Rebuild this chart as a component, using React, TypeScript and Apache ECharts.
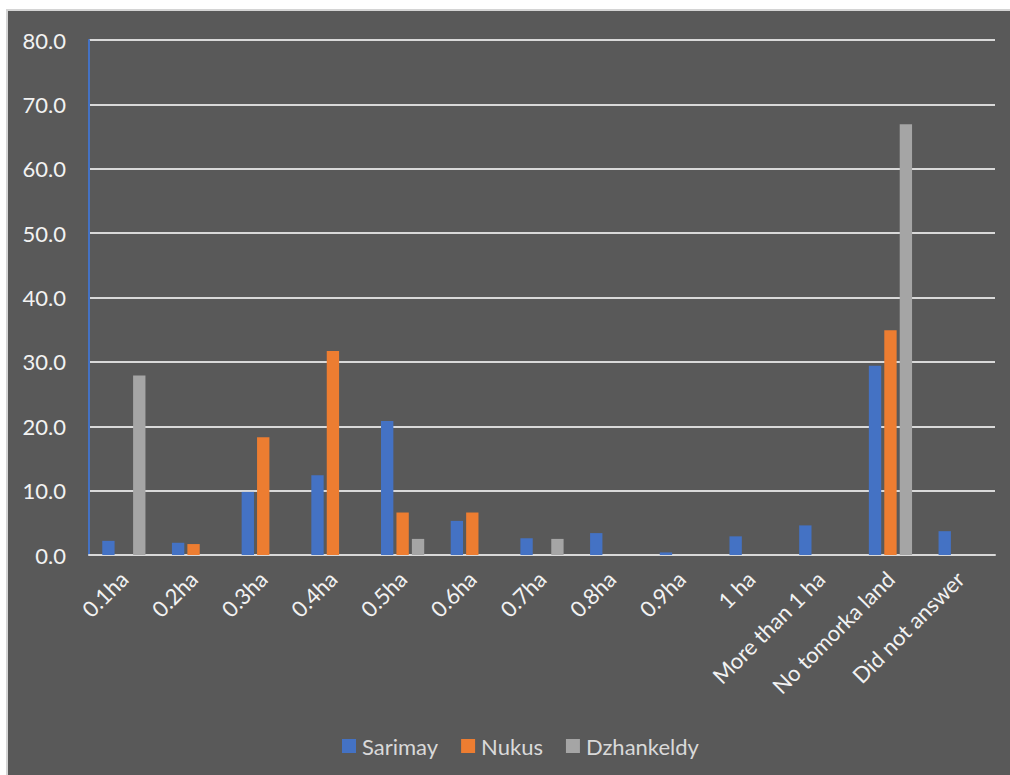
import React, { useEffect, useRef } from "react";
import * as echarts from "echarts";

const categories = ["0.1ha", "0.2ha", "0.3ha", "0.4ha", "0.5ha", "0.6ha", "0.7ha", "0.8ha", "0.9ha", "1 ha", "More than 1 ha", "No tomorka land", "Did not answer"];
const sarimay = [2.2, 1.9, 9.8, 12.4, 20.8, 5.3, 2.6, 3.4, 0.4, 2.9, 4.6, 29.4, 3.7];
const nukus = [0, 1.7, 18.3, 31.7, 6.6, 6.6, 0, 0, 0, 0, 0, 34.9, 0];
const dzhankeldy = [27.9, 0, 0, 0, 2.5, 0, 2.5, 0, 0, 0, 0, 66.9, 0];
const seriesNames = ["Sarimay", "Nukus", "Dzhankeldy"];
const colors = ["#4472C4", "#ED7D31", "#A5A5A5"];

export default function App() {
  const ref = useRef<HTMLDivElement>(null);
  useEffect(() => {
    if (!ref.current) return;
    const chart = echarts.init(ref.current, undefined, { renderer: "svg" });
    const font = "Lato, 'Open Sans', sans-serif";
    const data = [sarimay, nukus, dzhankeldy];
    chart.setOption({
      animation: false,
      backgroundColor: "#595959",
      textStyle: { fontFamily: font },
      grid: { left: 81, right: 15, top: 29, bottom: 220, containLabel: false },
      legend: {
        data: seriesNames,
        bottom: 13,
        left: 329,
        itemWidth: 14,
        itemHeight: 14,
        itemGap: 23,
        icon: "rect",
        textStyle: { color: "#d9d9d9", fontSize: 22, fontFamily: font, padding: [0, 0, 0, 1] },
      },
      xAxis: {
        type: "category",
        data: categories,
        axisLine: { show: true, lineStyle: { color: "#d9d9d9", width: 2 } },
        axisTick: { show: false },
        axisLabel: { color: "#f2f2f2", fontSize: 22, rotate: 45, margin: 20, interval: 0, fontFamily: font },
      },
      yAxis: {
        type: "value",
        min: 0,
        max: 80,
        interval: 10,
        axisLine: { show: true, lineStyle: { color: "#4472C4", width: 2 } },
        axisTick: { show: false },
        axisLabel: { color: "#f2f2f2", fontSize: 22, margin: 23, fontFamily: font, formatter: (v: number) => v.toFixed(1) },
        splitLine: { lineStyle: { color: "#d9d9d9", width: 2 } },
      },
      series: seriesNames.map((name, i) => ({
        name,
        type: "bar",
        data: data[i],
        barGap: "25%",
        barCategoryGap: "38%",
        itemStyle: { color: colors[i] },
      })),
    });
    return () => chart.dispose();
  }, []);
  return (
    <div style={{ position: "absolute", left: 6, top: 9, borderLeft: "2px solid #d4d4d4", borderTop: "2px solid #d4d4d4" }}>
      <div ref={ref} style={{ width: 1002, height: 764 }} />
    </div>
  );
}
